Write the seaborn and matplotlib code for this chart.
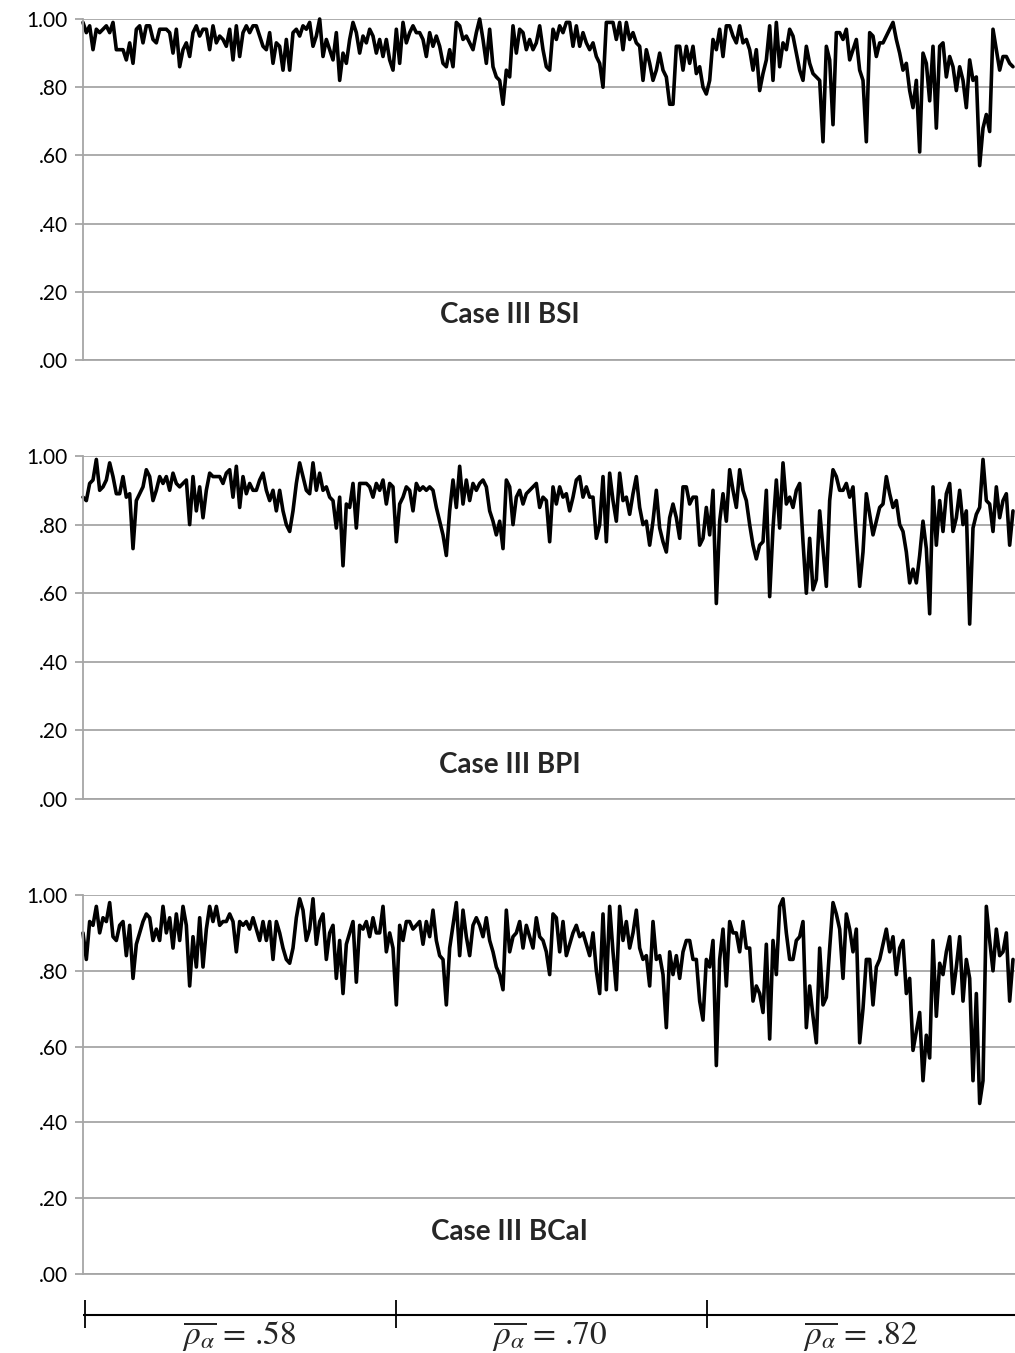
import numpy as np
import pandas as pd
import seaborn as sns
import matplotlib.pyplot as plt

# coverage per replication left to right
bsi = [.99,.96,.98,.91,.97,.96,.97,.98,.96,.99,
       .91,.91,.91,.88,.93,.87,.97,.98,.93,.98,
       .98,.94,.93,.97,.97,.97,.96,.90,.97,.86,
       .91,.93,.89,.96,.98,.95,.97,.97,.91,.98,
       .93,.95,.94,.92,.97,.88,.98,.89,.96,.98,
       .96,.98,.98,.95,.92,.91,.96,.87,.93,.92,
       .85,.94,.85,.96,.97,.95,.98,.97,.99,.92,
       .95,1.00,.89,.94,.91,.88,.96,.82,.90,.87,
       .94,.99,.96,.90,.95,.93,.97,.95,.90,.94,
       .89,.94,.88,.85,.97,.87,.99,.93,.96,.98,
       .96,.96,.94,.89,.96,.92,.95,.92,.87,.86,
       .91,.86,.99,.98,.94,.95,.93,.91,.96,1.00,
       .94,.87,.97,.86,.83,.82,.75,.85,.83,.98,
       .90,.97,.96,.91,.94,.91,.93,.98,.91,.86,
       .85,.97,.94,.98,.96,.99,.99,.92,.98,.92,
       .96,.93,.91,.93,.89,.87,.80,.99,.99,.99,
       .94,.99,.91,.99,.94,.96,.93,.92,.82,.91,
       .87,.82,.85,.90,.85,.83,.75,.75,.92,.92,
       .85,.92,.87,.92,.84,.86,.80,.78,.82,.94,
       .91,.97,.89,.98,.98,.95,.93,.98,.93,.94,
       .91,.85,.91,.79,.84,.88,.98,.82,.99,.86,
       .93,.91,.97,.95,.90,.85,.82,.92,.87,.84,
       .83,.82,.64,.92,.88,.69,.96,.96,.94,.97,
       .88,.91,.94,.85,.82,.64,.96,.95,.89,.93,
       .93,.95,.97,.99,.94,.90,.85,.87,.79,.74,
       .82,.61,.90,.87,.76,.92,.68,.92,.93,.83,
       .89,.86,.79,.86,.82,.74,.88,.82,.83,.57,
       .68,.72,.67,.97,.91,.85,.89,.89,.87,.86]

bpi = [.88,.87,.92,.93,.99,.90,.91,.93,.98,.94,
       .89,.89,.94,.88,.89,.73,.87,.89,.91,.96,
       .94,.87,.90,.94,.92,.94,.90,.95,.92,.91,
       .92,.93,.80,.94,.84,.91,.82,.90,.95,.94,
       .94,.94,.92,.95,.96,.88,.97,.85,.94,.89,
       .92,.90,.90,.93,.95,.90,.87,.90,.84,.90,
       .84,.80,.78,.84,.92,.98,.94,.90,.89,.98,
       .90,.95,.90,.91,.88,.87,.79,.88,.68,.86,
       .85,.92,.79,.92,.92,.92,.91,.88,.92,.90,
       .93,.86,.92,.91,.75,.86,.88,.91,.90,.84,
       .92,.90,.91,.90,.91,.90,.85,.81,.77,.71,
       .84,.93,.85,.97,.86,.93,.87,.92,.90,.92,
       .93,.91,.84,.81,.77,.81,.73,.93,.91,.80,
       .88,.90,.86,.89,.90,.91,.92,.85,.88,.87,
       .75,.91,.86,.91,.88,.89,.84,.88,.93,.94,
       .88,.91,.88,.88,.76,.80,.94,.75,.95,.87,
       .81,.95,.87,.88,.83,.89,.94,.85,.80,.81,
       .74,.81,.90,.79,.75,.72,.82,.86,.82,.76,
       .91,.91,.86,.88,.88,.74,.76,.85,.77,.90,
       .57,.81,.89,.81,.96,.90,.85,.96,.90,.87,
       .80,.74,.70,.74,.75,.90,.59,.79,.93,.79,
       .98,.86,.88,.85,.90,.92,.75,.60,.76,.61,
       .64,.84,.73,.62,.87,.96,.94,.90,.90,.92,
       .88,.91,.76,.62,.72,.89,.83,.77,.81,.85,
       .86,.94,.89,.85,.87,.80,.78,.72,.63,.67,
       .63,.71,.81,.73,.54,.91,.74,.87,.78,.89,
       .92,.78,.82,.90,.80,.84,.51,.79,.83,.85,
       .99,.87,.86,.78,.91,.82,.87,.89,.74,.84]

bcai = [.90,.83,.93,.92,.97,.90,.94,.93,.98,.89,
        .88,.92,.93,.84,.92,.78,.87,.90,.93,.95,
        .94,.88,.91,.88,.97,.90,.94,.86,.95,.88,
        .97,.92,.76,.89,.81,.94,.81,.91,.97,.93,
        .97,.92,.93,.93,.95,.93,.85,.93,.92,.93,
        .91,.94,.91,.88,.93,.88,.93,.83,.93,.90,
        .86,.83,.82,.86,.94,.99,.96,.88,.91,.99,
        .87,.93,.95,.83,.90,.92,.78,.88,.74,.87,
        .90,.93,.77,.92,.91,.93,.89,.94,.90,.90,
        .97,.85,.90,.86,.71,.92,.88,.93,.93,.91,
        .92,.93,.87,.93,.89,.96,.88,.84,.83,.71,
        .86,.92,.98,.84,.96,.89,.84,.92,.94,.92,
        .89,.94,.88,.85,.81,.79,.75,.96,.85,.89,
        .90,.93,.86,.92,.89,.86,.94,.89,.88,.85,
        .79,.95,.94,.85,.93,.84,.87,.90,.92,.89,
        .90,.87,.84,.90,.80,.74,.95,.75,.97,.85,
        .75,.97,.88,.93,.86,.90,.96,.86,.83,.84,
        .76,.93,.83,.84,.79,.65,.85,.79,.84,.78,
        .85,.88,.88,.83,.83,.72,.67,.83,.81,.88,
        .55,.83,.91,.76,.93,.90,.90,.85,.93,.86,
        .86,.72,.76,.74,.69,.87,.62,.88,.79,.97,
        .99,.90,.83,.83,.88,.89,.93,.65,.76,.68,
        .61,.86,.71,.73,.86,.98,.95,.91,.78,.95,
        .91,.85,.91,.61,.70,.83,.83,.71,.81,.83,
        .87,.91,.85,.89,.79,.86,.88,.74,.78,.59,
        .64,.69,.51,.63,.57,.88,.68,.82,.79,.85,
        .89,.74,.81,.89,.72,.83,.78,.51,.74,.45,
        .51,.97,.88,.80,.91,.84,.85,.90,.72,.83]

panel_titles = ["Case III BSI", "Case III BPI", "Case III BCaI"]
rho_groups = [".58", ".70", ".82"]
y_ticks = [0.0, 0.2, 0.4, 0.6, 0.8, 1.0]
y_tick_labels = [".00", ".20", ".40", ".60", ".80", "1.00"]

sns.set_theme(style="white")
plt.rcParams['font.family'] = ['Lato', 'DejaVu Sans']
plt.rcParams['mathtext.fontset'] = 'stix'

W, H = 1015, 1353
GRID = '#a6a6a6'
fig = plt.figure(figsize=(W / 100, H / 100), dpi=100)


def fig_box(left, top, right, bottom):
    # pixel box -> figure fraction
    return [left / W, 1 - bottom / H, (right - left) / W, (bottom - top) / H]


boxes = [fig_box(83, 19, 1015, 360), fig_box(83, 456, 1015, 799), fig_box(83, 895, 1015, 1274)]
title_y = [0.132, 0.099, 0.111]
n = len(bsi)
x_end = n - 0.4

for vals, title, box, ty in zip([bsi, bpi, bcai], panel_titles, boxes, title_y):
    df = pd.DataFrame({"rep": np.arange(len(vals)), "coverage": vals})
    ax = fig.add_axes(box)
    sns.lineplot(data=df, x="rep", y="coverage", ax=ax, color="black", linewidth=2.6)
    for ln in ax.lines:
        ln.set_clip_on(False)
    ax.set_xlim(0, x_end)
    ax.set_ylim(0, 1)
    ax.set_yticks(y_ticks, y_tick_labels)
    ax.set_xticks([])
    ax.set_xlabel("")
    ax.set_ylabel("")
    ax.grid(axis='y', color=GRID, linewidth=1.3)
    ax.set_axisbelow(True)
    for s in ['top', 'right']:
        ax.spines[s].set_visible(False)
    for s in ['left', 'bottom']:
        ax.spines[s].set_color(GRID)
        ax.spines[s].set_linewidth(1.3)
    ax.tick_params(axis='y', left=True, direction='out', length=6, width=1.3,
                   color=GRID, pad=5, labelsize=15, labelcolor='black')
    ax.text(0.458, ty, title, transform=ax.transAxes, ha='center', va='center',
            fontsize=20, fontweight='bold')

# category bracket under the last panel
axb = fig.add_axes(fig_box(83, 1295, 1015, 1353))
axb.set_xlim(0, x_end)
axb.set_ylim(58, 0)
axb.axis('off')
edges = np.arange(len(rho_groups)) * n / len(rho_groups)
axb.hlines(20, 0, x_end, color='black', linewidth=1.5, clip_on=False)
axb.vlines(edges + 0.6, 5, 33, color='black', linewidth=1.3, clip_on=False)
for e, g in zip(edges, rho_groups):
    axb.text(e + n / len(rho_groups) / 2, 41, r'$\overline{\rho_{\alpha}}$ = ' + g,
             ha='center', va='center', fontsize=24, family=['STIXGeneral', 'DejaVu Serif'])

fig.savefig("out.png", dpi=100)
